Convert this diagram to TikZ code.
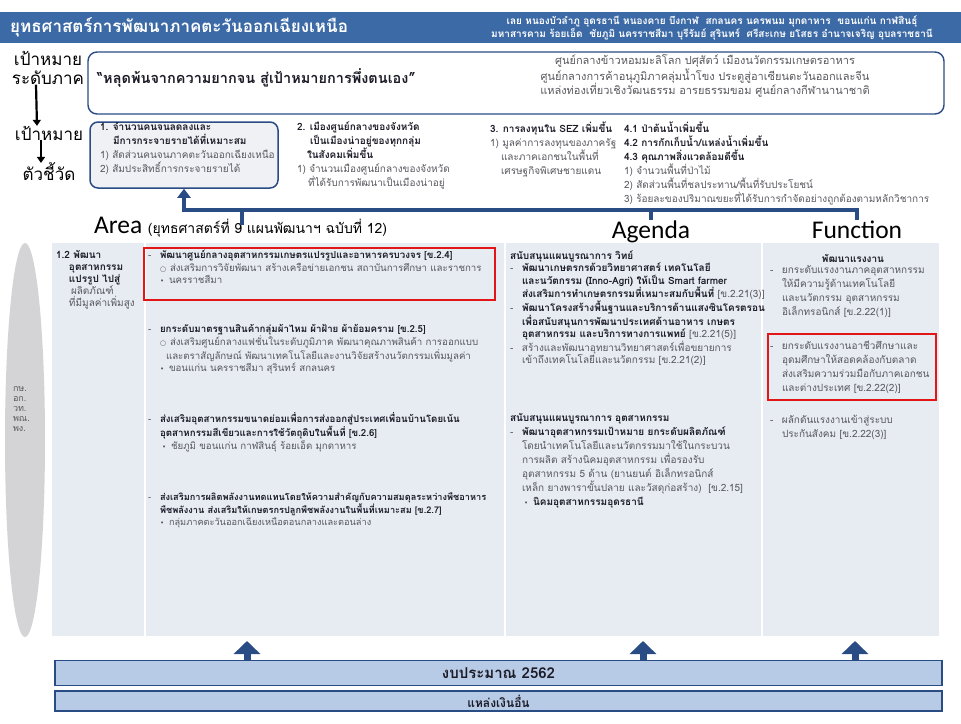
\documentclass[tikz,border=0pt]{standalone}
\usepackage{fontspec}
\setmainfont{Loma}[Script=Thai]
\newfontfamily\latinfont{Carlito}
\newfontfamily\symfont{DejaVu Sans}
\usepackage{tikz}
\usetikzlibrary{arrows.meta,positioning}

\definecolor{hdrblue}{RGB}{60,106,166}
\definecolor{navy}{RGB}{42,76,132}
\definecolor{panelgray}{RGB}{231,235,242}
\definecolor{barblue}{RGB}{184,203,230}
\definecolor{boxgray}{RGB}{239,241,245}
\definecolor{inkdark}{RGB}{28,28,40}
\definecolor{inkgray}{RGB}{88,88,95}
\definecolor{markred}{RGB}{226,22,22}
\definecolor{ovalgray}{RGB}{212,212,214}

\newcommand\hdtxt[1]{\textcolor{inkdark}{\bfseries #1}}
\newcommand\dsh{\makebox[12pt][l]{-}}
\newcommand\wcirc{\makebox[10pt][l]{{\symfont\scriptsize ○}}}
\newcommand\bul{\makebox[9pt][l]{{\symfont\scriptsize •}}}

\begin{document}
\begin{tikzpicture}[x=1pt,y=-1pt,
  sidelbl/.style={inner sep=0pt,outer sep=0pt,align=center,text=black,font=\fontsize{17}{19}\selectfont},
  itm/.style={inner sep=0pt,outer sep=0pt,anchor=north west,align=left,text=inkgray,font=\fontsize{9.7}{12.5}\selectfont},
  indtxt/.style={itm,font=\fontsize{10}{14}\selectfont},
  coltitle/.style={inner sep=0pt,outer sep=0pt,anchor=base,text=black,font=\latinfont\fontsize{25.5}{28}\selectfont},
  flowline/.style={draw=navy,line width=4.5pt},
  downarrow/.style={draw=black,line width=2.2pt,-{Triangle[width=8pt,length=6pt]}},
  uparrow/.style={draw=navy,line width=7pt,-{Triangle[width=26pt,length=13pt]}},
  redframe/.style={draw=markred,line width=1.6pt},
  barbox/.style={draw=navy,line width=1.2pt,fill=barblue,inner sep=0pt,text=inkdark,font=\bfseries\fontsize{15}{17}\selectfont}
]
\path[use as bounding box] (0,0) rectangle (961,723);
\path[fill=white] (0,0) rectangle (961,723);

% header band
\path[fill=hdrblue] (0,12) rectangle (961,43);
\node[inner sep=0pt,anchor=west,text=white,font=\bfseries\fontsize{17}{19}\selectfont] (hdrtitle) at (10,27) {ยุทธศาสตร์การพัฒนาภาคตะวันออกเฉียงเหนือ};
\node[inner sep=0pt,align=center,text=white,font=\bfseries\fontsize{10}{13}\selectfont] (hdrprov) at (712,28) {เลย หนองบัวลำภู อุดรธานี หนองคาย บึงกาฬ\ \ สกลนคร นครพนม มุกดาหาร\ \ ขอนแก่น กาฬสินธุ์\\มหาสารคาม ร้อยเอ็ด\ \ ชัยภูมิ นครราชสีมา บุรีรัมย์ สุรินทร์\ \ ศรีสะเกษ ยโสธร อำนาจเจริญ อุบลราชธานี};

% side labels
\node[sidelbl] (lblregion) at (48,68) {เป้าหมาย\\ระดับภาค};
\node[sidelbl] (lblgoal) at (49,133) {เป้าหมาย};
\node[sidelbl] (lblind) at (49,172) {ตัวชี้วัด};
\draw[downarrow] ([xshift=-12pt]lblregion.south) -- ([xshift=-12pt]lblgoal.north);
\draw[downarrow] ([xshift=-8pt]lblgoal.south) -- ([xshift=-8pt]lblind.north);

% regional goal
\node[draw=navy,line width=1.4pt,rounded corners=9pt,fill=white,minimum width=856pt,minimum height=62pt,inner sep=0pt] (goalbox) at (516,83) {};
\node[inner sep=0pt,anchor=west,text=inkdark,font=\bfseries\fontsize{14.5}{17}\selectfont] (goalmain) at (97,78) {“หลุดพ้นจากความยากจน สู่เป้าหมายการพึ่งตนเอง”};
\node[inner sep=0pt,align=center,text=inkgray,font=\fontsize{11}{14.5}\selectfont] (goalvis) at (705,76) {ศูนย์กลางข้าวหอมมะลิโลก ปศุสัตว์ เมืองนวัตกรรมเกษตรอาหาร\\ศูนย์กลางการค้าอนุภูมิภาคลุ่มน้ำโขง ประตูสู่อาเซียนตะวันออกและจีน\\แหล่งท่องเที่ยวเชิงวัฒนธรรม อารยธรรมขอม ศูนย์กลางกีฬานานาชาติ};

% indicators
\node[draw=navy,line width=1.5pt,rounded corners=8pt,fill=boxgray,minimum width=188pt,minimum height=66pt,inner sep=0pt] (ind1) at (184,155) {};
\node[indtxt] (ind1txt) at (100,122) {\hdtxt{1. จำนวนคนจนลดลงและ}\\\hspace*{13pt}\hdtxt{มีการกระจายรายได้ที่เหมาะสม}\\1) สัดส่วนคนจนภาคตะวันออกเฉียงเหนือ\\2) สัมประสิทธิ์การกระจายรายได้};
\node[indtxt] (ind2txt) at (297,122) {\hdtxt{2. เมืองศูนย์กลางของจังหวัด}\\\hspace*{13pt}\hdtxt{เป็นเมืองน่าอยู่ของทุกกลุ่ม}\\\hspace*{10pt}\hdtxt{ในสังคมเพิ่มขึ้น}\\1) จำนวนเมืองศูนย์กลางของจังหวัด\\\hspace*{11pt}ที่ได้รับการพัฒนาเป็นเมืองน่าอยู่};
\node[indtxt] (ind3txt) at (490,122) {\hdtxt{3. การลงทุนใน SEZ เพิ่มขึ้น}\\1) มูลค่าการลงทุนของภาครัฐ\\\hspace*{11pt}และภาคเอกชนในพื้นที่\\\hspace*{11pt}เศรษฐกิจพิเศษชายแดน};
\node[indtxt] (ind4txt) at (624,122) {\hdtxt{4.1 ป่าต้นน้ำเพิ่มขึ้น}\\\hdtxt{4.2 การกักเก็บน้ำ/แหล่งน้ำเพิ่มขึ้น}\\\hdtxt{4.3 คุณภาพสิ่งแวดล้อมดีขึ้น}\\1) จำนวนพื้นที่ป่าไม้\\2) สัดส่วนพื้นที่ชลประทาน/พื้นที่รับประโยชน์\\3) ร้อยละของปริมาณขยะที่ได้รับการกำจัดอย่างถูกต้องตามหลักวิชาการ};

% column titles
\node[coltitle,anchor=base west] (areaT) at (94,233) {Area\ {\rmfamily\fontsize{14}{16}\selectfont (ยุทธศาสตร์ที่ 9 แผนพัฒนาฯ ฉบับที่ 12)}};
\node[coltitle] (agendaT) at (651,238) {Agenda};
\node[coltitle] (funcT) at (857,238) {Function};

% links from the three columns up to indicator 1
\coordinate (barR) at (857,210);
\coordinate (stubA) at (242,210);
\coordinate (stubAend) at (242,225);
\coordinate (stubG) at (651,210);
\draw[flowline] (stubA) -- (stubAend);
\draw[flowline] (stubG) -- (stubG |- agendaT.north);
\draw[flowline,-{Triangle[width=13pt,length=9pt]}] (barR |- funcT.north) -- (barR) -- (ind1.south |- barR) -- (ind1.south);

% content panel
\path[fill=ovalgray] (25,440) ellipse [x radius=20, y radius=197];
\path[fill=panelgray] (52,243) rectangle (939,636);
\draw[white,line width=1.5pt] (145,243) -- (145,636);
\draw[white,line width=1.5pt] (505,243) -- (505,636);
\draw[white,line width=1.5pt] (762,243) -- (762,636);
\node[itm,font=\fontsize{9}{10.2}\selectfont] (ministries) at (13,386) {กษ.\\อก.\\วท.\\พณ.\\พง.};
\node[itm,font=\fontsize{10}{12}\selectfont] (sub12) at (56,250) {\hdtxt{1.2 พัฒนา}\\\hspace*{13pt}\hdtxt{อุตสาหกรรม}\\\hspace*{13pt}\hdtxt{แปรรูป ไปสู่}\\\hspace*{15pt}ผลิตภัณฑ์\\\hspace*{13pt}ที่มีมูลค่าเพิ่มสูง};

% Area items
\draw[redframe] (144,248) rectangle (495,300);
\node[itm] (area1) at (148,250) {\dsh\hdtxt{พัฒนาศูนย์กลางอุตสาหกรรมเกษตรแปรรูปและอาหารครบวงจร [ข.2.4]}\\\hspace*{12pt}\wcirc ส่งเสริมการวิจัยพัฒนา สร้างเครือข่ายเอกชน สถาบันการศึกษา และราชการ\\\hspace*{12pt}\bul นครราชสีมา};
\node[itm] (area2) at (148,324) {\dsh\hdtxt{ยกระดับมาตรฐานสินค้ากลุ่มผ้าไหม ผ้าฝ้าย ผ้าย้อมคราม [ข.2.5]}\\\hspace*{12pt}\wcirc ส่งเสริมศูนย์กลางแฟชั่นในระดับภูมิภาค พัฒนาคุณภาพสินค้า การออกแบบ\\\hspace*{18pt}และตราสัญลักษณ์ พัฒนาเทคโนโลยีและงานวิจัยสร้างนวัตกรรมเพิ่มมูลค่า\\\hspace*{12pt}\bul ขอนแก่น นครราชสีมา สุรินทร์ สกลนคร};
\node[itm] (area3) at (148,413) {\dsh\hdtxt{ส่งเสริมอุตสาหกรรมขนาดย่อมเพื่อการส่งออกสู่ประเทศเพื่อนบ้านโดยเน้น}\\\hspace*{12pt}\hdtxt{อุตสาหกรรมสีเขียวและการใช้วัตถุดิบในพื้นที่ [ข.2.6]}\\\hspace*{14pt}\bul ชัยภูมิ ขอนแก่น กาฬสินธุ์ ร้อยเอ็ด มุกดาหาร};
\node[itm,font=\fontsize{9.2}{12.5}\selectfont] (area4) at (148,493) {\dsh\hdtxt{ส่งเสริมการผลิตพลังงานทดแทนโดยให้ความสำคัญกับความสมดุลระหว่างพืชอาหาร}\\\hspace*{12pt}\hdtxt{พืชพลังงาน ส่งเสริมให้เกษตรกรปลูกพืชพลังงานในพื้นที่เหมาะสม [ข.2.7]}\\\hspace*{12pt}\bul กลุ่มภาคตะวันออกเฉียงเหนือตอนกลางและตอนล่าง};

% Agenda items
\node[itm,font=\fontsize{10}{12.2}\selectfont] (agd1) at (510,251) {\hdtxt{สนับสนุนแผนบูรณาการ วิทย์}\\\dsh\hdtxt{พัฒนาเกษตรกรด้วยวิทยาศาสตร์ เทคโนโลยี}\\\hspace*{12pt}\hdtxt{และนวัตกรรม (Inno-Agri) ให้เป็น Smart farmer}\\\hspace*{12pt}\hdtxt{ส่งเสริมการทำเกษตรกรรมที่เหมาะสมกับพื้นที่} [ข.2.21(3)]\\\dsh\hdtxt{พัฒนาโครงสร้างพื้นฐานและบริการด้านแสงซินโครตรอน}\\\hspace*{12pt}\hdtxt{เพื่อสนับสนุนการพัฒนาประเทศด้านอาหาร เกษตร}\\\hspace*{12pt}\hdtxt{อุตสาหกรรม และบริการทางการแพทย์} [ข.2.21(5)]\\\dsh สร้างและพัฒนาอุทยานวิทยาศาสตร์เพื่อขยายการ\\\hspace*{12pt}เข้าถึงเทคโนโลยีและนวัตกรรม [ข.2.21(2)]};
\node[itm,font=\fontsize{10}{14}\selectfont] (agd2) at (510,413) {\hdtxt{สนับสนุนแผนบูรณาการ อุตสาหกรรม}\\\dsh\hdtxt{พัฒนาอุตสาหกรรมเป้าหมาย ยกระดับผลิตภัณฑ์}\\\hspace*{12pt}โดยนำเทคโนโลยีและนวัตกรรมมาใช้ในกระบวน\\\hspace*{12pt}การผลิต สร้างนิคมอุตสาหกรรม เพื่อรองรับ\\\hspace*{12pt}อุตสาหกรรม 5 ด้าน (ยานยนต์ อิเล็กทรอนิกส์\\\hspace*{12pt}เหล็ก ยางพาราขั้นปลาย และวัสดุก่อสร้าง)\ \ [ข.2.15]\\\hspace*{14pt}\bul\hdtxt{นิคมอุตสาหกรรมอุดรธานี}};

% Function items
\node[inner sep=0pt,text=inkdark,font=\bfseries\fontsize{10}{14}\selectfont] (fn0) at (853,258) {พัฒนาแรงงาน};
\node[itm,font=\fontsize{10}{14}\selectfont] (fn1) at (770,266) {\dsh ยกระดับแรงงานภาคอุตสาหกรรม\\\hspace*{12pt}ให้มีความรู้ด้านเทคโนโลยี\\\hspace*{12pt}และนวัตกรรม อุตสาหกรรม\\\hspace*{12pt}อิเล็กทรอนิกส์ [ข.2.22(1)]};
\draw[redframe] (768,334) rectangle (936,400);
\node[itm,font=\fontsize{10}{14}\selectfont] (fn2) at (770,341) {\dsh ยกระดับแรงงานอาชีวศึกษาและ\\\hspace*{12pt}อุดมศึกษาให้สอดคล้องกับตลาด\\\hspace*{12pt}ส่งเสริมความร่วมมือกับภาคเอกชน\\\hspace*{12pt}และต่างประเทศ [ข.2.22(2)]};
\node[itm,font=\fontsize{10}{14}\selectfont] (fn3) at (770,415) {\dsh ผลักดันแรงงานเข้าสู่ระบบ\\\hspace*{12pt}ประกันสังคม [ข.2.22(3)]};

% budget
\node[barbox,minimum width=887pt,minimum height=25pt] (budget) at (498.5,673) {งบประมาณ 2562};
\node[barbox,minimum width=887pt,minimum height=20pt,font=\bfseries\fontsize{12}{14}\selectfont] (other) at (498.5,701) {แหล่งเงินอื่น};
\coordinate (upA) at (247,641);
\coordinate (upG) at (643,641);
\coordinate (upF) at (855,641);
\draw[uparrow] (budget.north -| upA) -- (upA);
\draw[uparrow] (budget.north -| upG) -- (upG);
\draw[uparrow] (budget.north -| upF) -- (upF);
\end{tikzpicture}
\end{document}
